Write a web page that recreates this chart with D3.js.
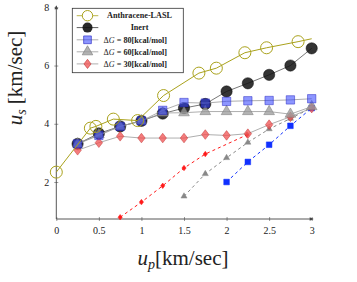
<!DOCTYPE html>
<html>
<head>
<meta charset="utf-8">
<script src="https://cdn.jsdelivr.net/npm/d3@7/dist/d3.min.js"></script>
<style>
  body { margin: 0; background: #fff; }
  svg { display: block; }
  text { font-family: "Liberation Serif", "DejaVu Serif", serif; fill: #222; }
</style>
</head>
<body>
<svg id="chart"></svg>
<script>
// ---- data ----
const xTicks = [0, 0.5, 1, 1.5, 2, 2.5, 3];
const xTickLabels = ["0", "0.5", "1", "1.5", "2", "2.5", "3"];
const yTicks = [2, 4, 6, 8];
const yTickLabels = ["2", "4", "6", "8"];

const laslUp = [0, 0.40, 0.465, 0.67, 0.955, 1.26, 1.675, 1.88, 2.215, 2.47, 2.84];
const laslUs = [2.34, 3.85, 3.91, 4.16, 4.11, 4.97, 5.74, 5.91, 6.44, 6.61, 6.82];
const laslTail = [3.0, 6.92];   // line runs on past the last marker

const upSolid  = [0.25, 0.5, 0.75, 1.0, 1.25, 1.5, 1.75, 2.0, 2.25, 2.5, 2.75, 3.0];
const inertUs  = [3.31, 3.67, 3.91, 4.10, 4.35, 4.54, 4.68, 5.11, 5.39, 5.68, 6.0, 6.59];
const dg80Us   = [3.31, 3.60, 3.91, 4.10, 4.46, 4.73, 4.71, 4.77, 4.79, 4.80, 4.82, 4.86];
const dg60Us   = [3.31, 3.63, 3.91, 4.10, 4.37, 4.38, 4.42, 4.42, 4.42, 4.42, 4.33, 4.59];
const dg30Us   = [3.09, 3.35, 3.57, 3.51, 3.51, 3.51, 3.63, 3.60, 3.66, 3.97, 4.24, 4.54];

const dash30Up = [0.75, 1.0, 1.25, 1.5, 1.75, 2.24];
const dash30Us = [0.79, 1.31, 1.87, 2.48, 2.96, 3.62];
const dash60Up = [1.5, 1.75, 2.0, 2.25, 2.5, 2.75, 3.0];
const dash60Us = [1.51, 2.28, 2.83, 3.36, 3.82, 4.18, 4.55];
const dash80Up = [2.0, 2.25, 2.5, 2.75, 3.0];
const dash80Us = [2.0, 2.69, 3.28, 3.93, 4.54];

const W = 357, H = 282;
const svg = d3.select("#chart").attr("width", W).attr("height", H);

const x = d3.scaleLinear().domain([0, 3]).range([56.3, 311.7]);
const y = d3.scaleLinear().domain([0.73, 8]).range([219, 7.3]);

const zip = (a, b) => a.map((v, i) => [v, b[i]]);
const line = d3.line().x(d => x(d[0])).y(d => y(d[1]));

const OLIVE = "#aaa21c";

// ---- axes ----
const axisCol = "#444";
const xAxis = svg.append("g").attr("transform", `translate(0,${y(0.73)})`)
  .call(d3.axisBottom(x).tickValues(xTicks).tickFormat((d, i) => xTickLabels[i]).tickSize(0).tickPadding(8));
xAxis.select(".domain").remove();
xAxis.selectAll("text").attr("font-size", 10).attr("font-family", "Liberation Serif").attr("fill", "#333");
xAxis.selectAll(".tick").append("line").attr("y1", -2).attr("y2", 2).attr("stroke", "#999");

const yAxis = svg.append("g").attr("transform", `translate(${x(0)},0)`)
  .call(d3.axisLeft(y).tickValues(yTicks).tickFormat((d, i) => yTickLabels[i]).tickSize(0).tickPadding(7));
yAxis.select(".domain").remove();
yAxis.selectAll("text").attr("font-size", 10).attr("font-family", "Liberation Serif").attr("fill", "#333");
yAxis.selectAll(".tick").append("line").attr("x1", -2).attr("x2", 2).attr("stroke", "#999");

svg.append("line").attr("x1", x(0)).attr("x2", x(3) + 1).attr("y1", y(0.73)).attr("y2", y(0.73))
  .attr("stroke", axisCol).attr("stroke-width", 0.9);
svg.append("line").attr("x1", x(0)).attr("x2", x(0)).attr("y1", y(0.73)).attr("y2", y(8) - 1)
  .attr("stroke", axisCol).attr("stroke-width", 0.9);
svg.append("path").attr("d", `M${x(3) + 2},${y(0.73)} l-4,-1.8 l0,3.6 z`).attr("fill", axisCol);
svg.append("path").attr("d", `M${x(0)},${y(8) - 2} l-1.8,4 l3.6,0 z`).attr("fill", axisCol);

// ---- dashed series (drawn beneath) ----
const sym = (type, size) => d3.symbol().type(type).size(size)();
function dashed(up, us, col, type, size) {
  const pts = zip(up, us);
  svg.append("path").attr("d", line(pts)).attr("fill", "none")
    .attr("stroke", col).attr("stroke-width", 1).attr("stroke-dasharray", "3,3");
  svg.append("g").selectAll("path").data(pts).join("path")
    .attr("transform", d => `translate(${x(d[0])},${y(d[1])})`)
    .attr("d", sym(type, size)).attr("fill", col).attr("stroke", col).attr("stroke-width", 0.5);
}
const diamond = { draw(ctx, s) { const r = Math.sqrt(s) / 2; ctx.moveTo(0, -r * 1.3); ctx.lineTo(r, 0); ctx.lineTo(0, r * 1.3); ctx.lineTo(-r, 0); ctx.closePath(); } };

dashed(dash30Up, dash30Us, "#ff1a1a", diamond, 18);
dashed(dash60Up, dash60Us, "#888", d3.symbolTriangle, 16);
dashed(dash80Up, dash80Us, "#1030ff", d3.symbolSquare, 32);

// ---- solid series ----
function solid(up, us, lineCol, fill, stroke, type, size, opac) {
  const pts = zip(up, us);
  svg.append("path").attr("d", line(pts)).attr("fill", "none")
    .attr("stroke", lineCol).attr("stroke-width", 0.8);
  svg.append("g").selectAll("path").data(pts).join("path")
    .attr("transform", d => `translate(${x(d[0])},${y(d[1])})`)
    .attr("d", sym(type, size)).attr("fill", fill).attr("fill-opacity", opac)
    .attr("stroke", stroke).attr("stroke-opacity", 0.8).attr("stroke-width", 0.6);
}

solid(upSolid, inertUs, "#555", "#111", "#000", d3.symbolCircle, 100, 0.85);
solid(upSolid, dg30Us, "#999", "#f05050", "#c03030", diamond, 55, 0.75);
solid(upSolid, dg60Us, "#999", "#999", "#777", d3.symbolTriangle, 50, 0.75);
solid(upSolid, dg80Us, "#999", "#3040ff", "#2020c0", d3.symbolSquare, 70, 0.55);

// LASL open circles
const lasl = zip(laslUp, laslUs);
svg.append("path").attr("d", line(lasl.concat([laslTail]))).attr("fill", "none")
  .attr("stroke", OLIVE).attr("stroke-width", 1);
svg.append("g").selectAll("circle").data(lasl).join("circle")
  .attr("cx", d => x(d[0])).attr("cy", d => y(d[1])).attr("r", 6)
  .attr("fill", "none").attr("stroke", OLIVE).attr("stroke-width", 1);

// ---- legend ----
const lg = svg.append("g");
lg.append("rect").attr("x", 72.3).attr("y", 8.3).attr("width", 111).attr("height", 64.4)
  .attr("fill", "#fff").attr("stroke", "#333").attr("stroke-width", 0.8);
const rows = [15.7, 27.6, 39.8, 51.8, 63.9];
const lx0 = 76.7, lx1 = 98.3, lm = 87.5;
const legLine = (yy, col) => lg.append("line").attr("x1", lx0).attr("x2", lx1).attr("y1", yy).attr("y2", yy)
  .attr("stroke", col).attr("stroke-width", 0.8);
legLine(rows[0], OLIVE);
lg.append("circle").attr("cx", lm).attr("cy", rows[0]).attr("r", 5.2).attr("fill", "#fff").attr("stroke", OLIVE);
legLine(rows[1], "#333");
lg.append("circle").attr("cx", lm).attr("cy", rows[1]).attr("r", 5).attr("fill", "#111").attr("fill-opacity", 0.9);
const legSym = (yy, type, size, fill, stroke, op) => {
  legLine(yy, "#999");
  lg.append("path").attr("transform", `translate(${lm},${yy})`).attr("d", sym(type, size))
    .attr("fill", fill).attr("fill-opacity", op).attr("stroke", stroke).attr("stroke-width", 0.6);
};
legSym(rows[2], d3.symbolSquare, 60, "#3040ff", "#2020c0", 0.55);
legSym(rows[3], d3.symbolTriangle, 48, "#999", "#777", 0.75);
legSym(rows[4], diamond, 50, "#f05050", "#c03030", 0.75);

const legText = (yy) => lg.append("text").attr("y", yy + 2.7).attr("font-size", 8.2);
legText(rows[0]).attr("x", 139.5).attr("text-anchor", "middle").attr("font-weight", "bold").text("Anthracene-LASL");
legText(rows[1]).attr("x", 139.5).attr("text-anchor", "middle").attr("font-weight", "bold").text("Inert");
["80", "60", "30"].forEach((v, i) => {
  const t = legText(rows[2 + i]).attr("x", 103.5);
  t.append("tspan").text("Δ");
  t.append("tspan").attr("font-style", "italic").text("G");
  t.append("tspan").text(" = ");
  t.append("tspan").attr("font-weight", "bold").text(v + "[kcal/mol]");
});

// ---- axis titles ----
const xt = svg.append("text").attr("x", 183).attr("y", 265).attr("text-anchor", "middle").attr("font-size", 21);
xt.append("tspan").attr("font-style", "italic").text("u");
xt.append("tspan").attr("font-style", "italic").attr("font-size", 14).attr("dy", 4).text("p");
xt.append("tspan").attr("dy", -4).text("[km/sec]");

const yt = svg.append("text").attr("transform", "translate(22,78) rotate(-90)").attr("text-anchor", "middle").attr("font-size", 21);
yt.append("tspan").attr("font-style", "italic").text("u");
yt.append("tspan").attr("font-style", "italic").attr("font-size", 14).attr("dy", 4).text("s");
yt.append("tspan").attr("dy", -4).text(" [km/sec]");
</script>
</body>
</html>
